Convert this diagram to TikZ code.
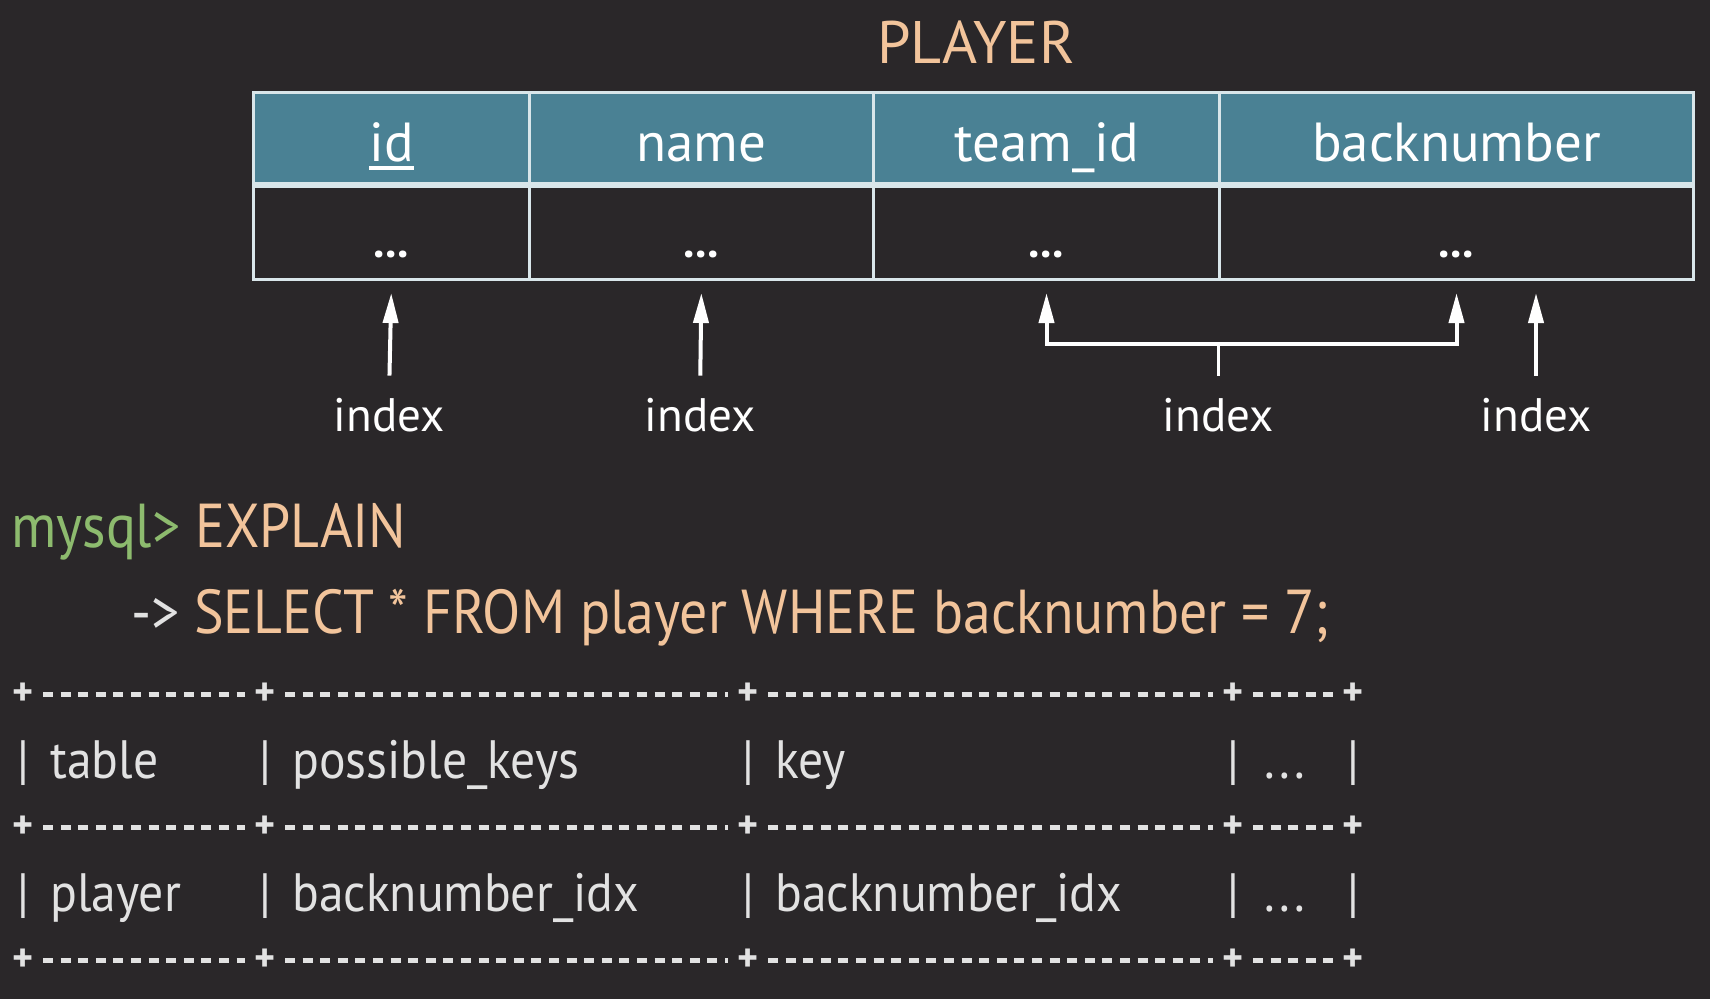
\documentclass[tikz,border=0pt]{standalone}
\usepackage{fontspec}
\setmainfont{PT Sans}
\newfontfamily\codefont[FakeStretch=0.9]{PT Sans}
\newfontfamily\rowfont[FakeStretch=0.92]{PT Sans}
\usetikzlibrary{arrows.meta}
\definecolor{slide}{HTML}{2A2729}
\definecolor{headfill}{HTML}{4A8194}
\definecolor{rule}{HTML}{D9E6EA}
\definecolor{peach}{HTML}{F2C49B}
\definecolor{prompt}{HTML}{8DBB6E}
\definecolor{ascii}{HTML}{E2E2E2}
\newcommand\keyname[1]{\setbox0\hbox{#1}\rlap{\rule[-0.16em]{\wd0}{0.075em}}\box0}
\begin{document}
\begin{tikzpicture}[x=1pt,y=-1pt,
    >={Triangle[length=30pt,width=15pt]},
    title/.style={text=peach,anchor=base,inner sep=0pt,font=\fontsize{60}{72}\selectfont},
    head/.style={draw=rule,line width=3pt,fill=headfill,text=white,
      minimum height=91pt,anchor=north west,inner sep=0pt,
      text height=46pt,text depth=0pt,font=\fontsize{55}{66}\selectfont},
    cell/.style={draw=rule,line width=3pt,minimum height=93pt,anchor=north west,inner sep=0pt},
    dots/.style={text=white,inner sep=0pt,font=\bfseries\fontsize{46}{50}\selectfont},
    idx/.style={text=white,anchor=base,inner sep=0pt,font=\fontsize{47}{56}\selectfont},
    arr/.style={->,white,line width=4pt,shorten <=22pt,shorten >=12pt},
    code/.style={anchor=base west,inner sep=0pt,font=\codefont\fontsize{62}{72}\selectfont},
    row/.style={anchor=base west,inner sep=0pt,text=ascii,font=\rowfont\fontsize{54}{60}\selectfont},
    pipe/.style={anchor=base,inner sep=0pt,text=ascii,font=\rowfont\fontsize{54}{60}\selectfont},
    plus/.style={text=ascii,inner sep=0pt,font=\bfseries\fontsize{40}{48}\selectfont},
    sep/.style={ascii,line width=5pt,dash pattern=on 10pt off 7.6pt,shorten <=20pt,shorten >=20pt}]
        \fill[slide] (0,0) rectangle (1710,999);
        % table
            \node[title] (title) at (976,63) {PLAYER};
            \foreach \x/\w/\v/\t in {252/276/id/\keyname{id},528/344/name/name,872/346/team/team\_id,1218/474/back/backnumber}{
                \node[head,minimum width=\w pt] (h-\v) at (\x,91) {\t};
                \node[cell,minimum width=\w pt] (c-\v) at (h-\v.south west) {};
                \node[dots] (d-\v) at ([yshift=-21pt]c-\v.center) {...};
            }
        % indexes
            \foreach \x/\v in {389/id,700/name,1218/both,1536/back}
                \node[idx] (i-\v) at (\x,431) {index};
            \draw[arr] (i-id.north) -- (c-id.south);
            \draw[arr] (i-name.north) -- (c-name.south);
            \draw[arr] (i-back.north) -- (i-back.north |- c-back.south);
            \coordinate (fork) at (1218,344);
            \draw[white,line width=4pt,<->,shorten <=12pt,shorten >=12pt] (c-team.south) |- (fork) -| (c-back.south);
            \draw[white,line width=3pt,shorten <=22pt] (i-both.north) -- (fork);
        % query
            \node[code] (prompt) at (11,547) {\textcolor{prompt}{mysql>} \textcolor{peach}{EXPLAIN}};
            \node[code,text=peach] (query) at (131,633) {\textcolor{ascii}{->} SELECT * FROM player WHERE backnumber = 7;};
        % result
            \foreach \y in {694,827,960}{
                \foreach \x in {23,265,748,1233,1353}
                    \node[plus] (p-\y-\x) at (\x,\y) {+};
                \foreach \a/\b in {23/265,265/748,748/1233,1233/1353}
                    \draw[sep] (p-\y-\a.center) -- (p-\y-\b.center);
            }
            \foreach \y/\a/\b/\c in {778/table/possible\_keys/key,911/player/backnumber\_idx/backnumber\_idx}{
                \foreach \x in {23,265,748,1233,1353}
                    \node[pipe] (bar-\y-\x) at (\x,\y) {|};
                \node[row] (r-\y-a) at (50,\y) {\a};
                \node[row] (r-\y-b) at (292,\y) {\b};
                \node[row] (r-\y-c) at (775,\y) {\c};
                \node[pipe] (r-\y-d) at (1285,\y) {.\hspace{0.08em}.\hspace{0.08em}.};
            }
\end{tikzpicture}
\end{document}
